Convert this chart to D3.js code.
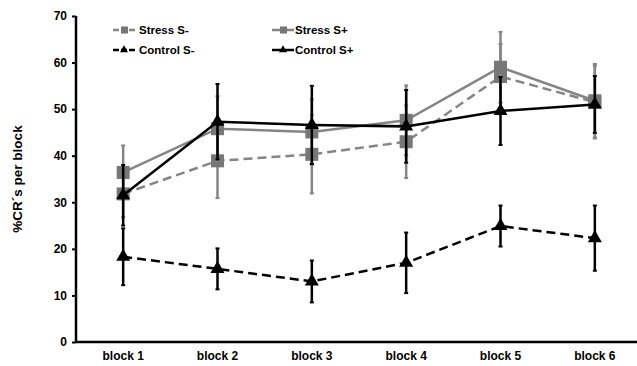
<!DOCTYPE html>
<html>
<head>
<meta charset="utf-8">
<script src="https://cdn.jsdelivr.net/npm/d3@7"></script>
<style>
  body { margin: 0; background: #fff; }
  svg text { font-family: "Liberation Sans", Arial, sans-serif; font-weight: bold; fill: #000; }
</style>
</head>
<body>
<div id="chart"></div>
<script>
// data
const blocks = ["block 1", "block 2", "block 3", "block 4", "block 5", "block 6"];
const yTicks = [0, 10, 20, 30, 40, 50, 60, 70];

const stressMinus = [31.8, 38.9, 40.3, 43.0, 57.0, 51.5];
const stressMinusErr = [5.0, 8.0, 8.4, 7.8, 7.0, 7.8];
const stressPlus = [36.4, 45.8, 45.1, 47.6, 59.0, 51.8];
const stressPlusErr = [5.8, 7.0, 7.0, 7.5, 7.6, 7.9];
const controlMinus = [18.3, 15.7, 13.0, 17.0, 24.9, 22.3];
const controlMinusErr = [6.1, 4.4, 4.5, 6.5, 4.4, 7.0];
const controlPlus = [31.5, 47.3, 46.6, 46.3, 49.6, 51.0];
const controlPlusErr = [6.5, 8.1, 8.4, 7.8, 7.3, 6.1];

const series = [
  {name: "Stress S-", values: stressMinus, err: stressMinusErr, color: "#858585", marker: "square", dash: "9,5"},
  {name: "Stress S+", values: stressPlus, err: stressPlusErr, color: "#858585", marker: "square", dash: null},
  {name: "Control S-", values: controlMinus, err: controlMinusErr, color: "#000", marker: "triangle", dash: "9,5"},
  {name: "Control S+", values: controlPlus, err: controlPlusErr, color: "#000", marker: "triangle", dash: null}
];

const width = 637, height = 366;
const svg = d3.select("#chart").append("svg")
  .attr("width", width).attr("height", height);

const x = d3.scaleBand().domain(blocks).range([76, 642]);
const y = d3.scaleLinear().domain([0, 70]).range([342, 16]);

// axes
const yAxis = svg.append("g")
  .attr("transform", "translate(76,0)")
  .call(d3.axisLeft(y).tickValues(yTicks).tickSize(4).tickPadding(5));
yAxis.select(".domain").attr("stroke", "#000").attr("stroke-width", 2.5).attr("d", `M0,${y(70)}V${y(0)}`);
yAxis.selectAll(".tick line").attr("stroke-width", 2);
yAxis.selectAll("text").style("font-size", "12px");

const xAxis = svg.append("g")
  .attr("transform", "translate(0,342)")
  .call(d3.axisBottom(x).tickSize(0).tickPadding(9));
xAxis.select(".domain").attr("stroke", "#000").attr("stroke-width", 2.5).attr("d", `M76,0H${width}`);
xAxis.selectAll("text").style("font-size", "12px");

svg.append("text")
  .attr("transform", `translate(22,${(y(0) + y(70)) / 2}) rotate(-90)`)
  .attr("text-anchor", "middle")
  .style("font-size", "13.5px")
  .text("%CR´s per block");

const cx = d => x(d) + x.bandwidth() / 2;
const tri = d3.symbol().type(d3.symbolTriangle).size(85);

const plot = svg.append("g");
series.forEach(s => {
  const pts = blocks.map((b, i) => ({b, v: s.values[i], e: s.err[i]}));
  const g = plot.append("g");

  // error bars
  const eb = g.selectAll(".eb").data(pts).join("g");
  eb.append("line")
    .attr("x1", d => cx(d.b)).attr("x2", d => cx(d.b))
    .attr("y1", d => y(d.v + d.e)).attr("y2", d => y(d.v - d.e))
    .attr("stroke", s.color).attr("stroke-width", 2.5);
  [1, -1].forEach(k => {
    eb.append("line")
      .attr("x1", d => cx(d.b) - 2).attr("x2", d => cx(d.b) + 2)
      .attr("y1", d => y(d.v + k * d.e)).attr("y2", d => y(d.v + k * d.e))
      .attr("stroke", s.color).attr("stroke-width", 2);
  });

  g.append("path")
    .datum(pts)
    .attr("fill", "none")
    .attr("stroke", s.color)
    .attr("stroke-width", 2.5)
    .attr("stroke-dasharray", s.dash)
    .attr("d", d3.line().x(d => cx(d.b)).y(d => y(d.v)));

  if (s.marker === "square") {
    g.selectAll("rect").data(pts).join("rect")
      .attr("x", d => cx(d.b) - 6.5).attr("y", d => y(d.v) - 6.5)
      .attr("width", 13).attr("height", 13)
      .attr("fill", "#777");
  } else {
    g.selectAll(".tri").data(pts).join("path")
      .attr("transform", d => `translate(${cx(d.b)},${y(d.v)})`)
      .attr("d", tri)
      .attr("fill", "#000");
  }
});

// legend
const legendPos = [
  {lx: 113, ly: 30}, {lx: 272, ly: 30}, {lx: 113, ly: 50}, {lx: 272, ly: 50}
];
series.forEach((s, i) => {
  const p = legendPos[i];
  const lg = svg.append("g").attr("transform", `translate(${p.lx},${p.ly})`);
  lg.append("line").attr("x1", 0).attr("x2", 22).attr("y1", 0).attr("y2", 0)
    .attr("stroke", s.color).attr("stroke-width", 2.5)
    .attr("stroke-dasharray", s.dash ? "6,2" : null);
  if (s.marker === "square") {
    lg.append("rect").attr("x", 8).attr("y", -3.5).attr("width", 7).attr("height", 7).attr("fill", "#777");
  } else {
    lg.append("path").attr("transform", "translate(11,0)")
      .attr("d", d3.symbol().type(d3.symbolTriangle).size(28)).attr("fill", "#000");
  }
  lg.append("text").attr("x", i % 2 === 0 ? 26 : 23).attr("y", 4)
    .style("font-size", "11.5px").text(s.name);
});
</script>
</body>
</html>
